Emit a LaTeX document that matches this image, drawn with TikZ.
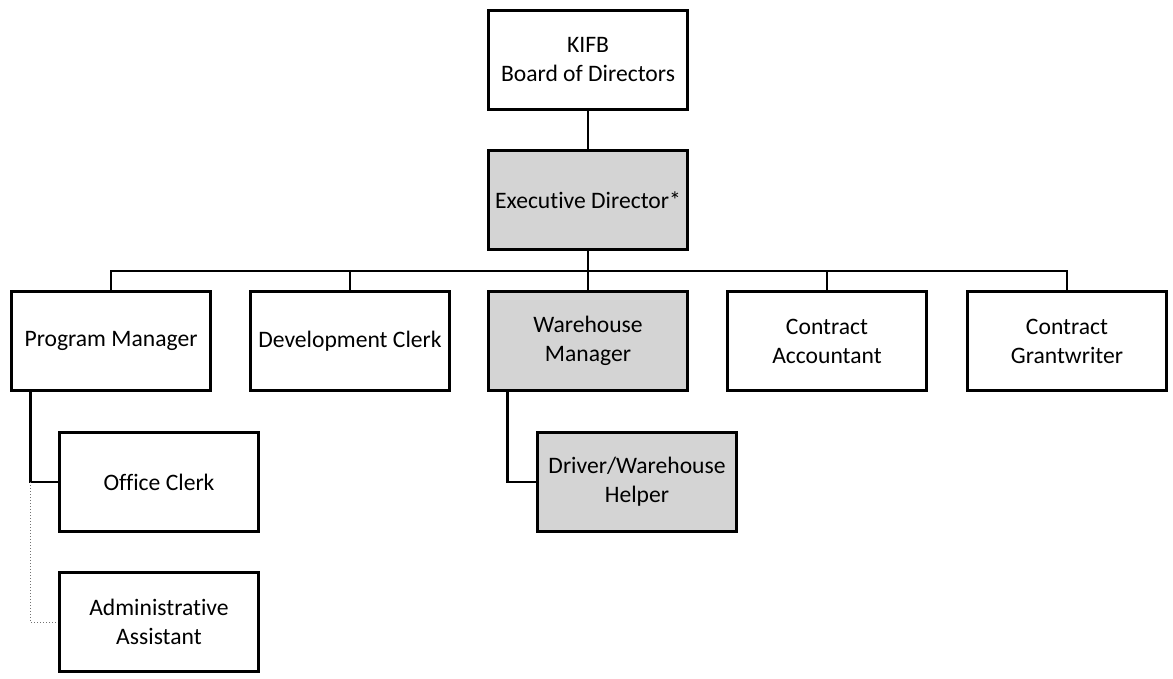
\documentclass[tikz,border=0pt]{standalone}
\usepackage{fontspec}
\setmainfont{Carlito}[Ligatures={NoCommon}]
\begin{document}
\begin{tikzpicture}[x=0.5pt,y=-0.5pt,
  box/.style={draw=black, line width=1.2pt, fill=white, minimum width=99.5pt, minimum height=49.5pt,
    inner sep=1pt, align=center, font=\fontsize{11.8}{14.5}\selectfont},
  shaded/.style={box, fill=black!17},
  conn/.style={line width=1.3pt},
  thinconn/.style={line width=0.5pt, densely dotted, black!55}]
\useasboundingbox (0,0) rectangle (1173,679);
\node[box] (kifb) at (588,60) {KIFB\\Board of Directors};
\node[shaded] (exec) at (588,200) {Executive Director*};
\node[box] (pm) at (111,341) {Program Manager};
\node[box] (dc) at (350,341) {Development Clerk};
\node[shaded] (wm) at (588,341) {Warehouse\\Manager};
\node[box] (ca) at (827,341) {Contract\\Accountant};
\node[box] (cg) at (1067,341) {Contract\\Grantwriter};
\node[box] (oc) at (159,482) {Office Clerk};
\node[shaded] (dwh) at (637,482) {Driver/Warehouse\\Helper};
\node[box] (aa) at (159,622) {Administrative\\Assistant};
\coordinate (bus) at (588,271);
\coordinate (pmx) at ([xshift=10pt]pm.south west);
\coordinate (wmx) at ([xshift=10pt]wm.south west);
\draw[conn] (kifb.south) -- (exec.north);
\draw[conn] (exec.south) -- (bus);
\draw[conn] (pm.north) |- (bus) -| (cg.north);
\draw[conn] (dc.north) -- (dc.north |- bus);
\draw[conn] (wm.north) -- (bus);
\draw[conn] (ca.north) -- (ca.north |- bus);
\draw[conn] (pmx) |- (oc.west);
\draw[thinconn] (pmx |- oc.west) |- (aa.west);
\draw[conn] (wmx) |- (dwh.west);
\end{tikzpicture}
\end{document}
